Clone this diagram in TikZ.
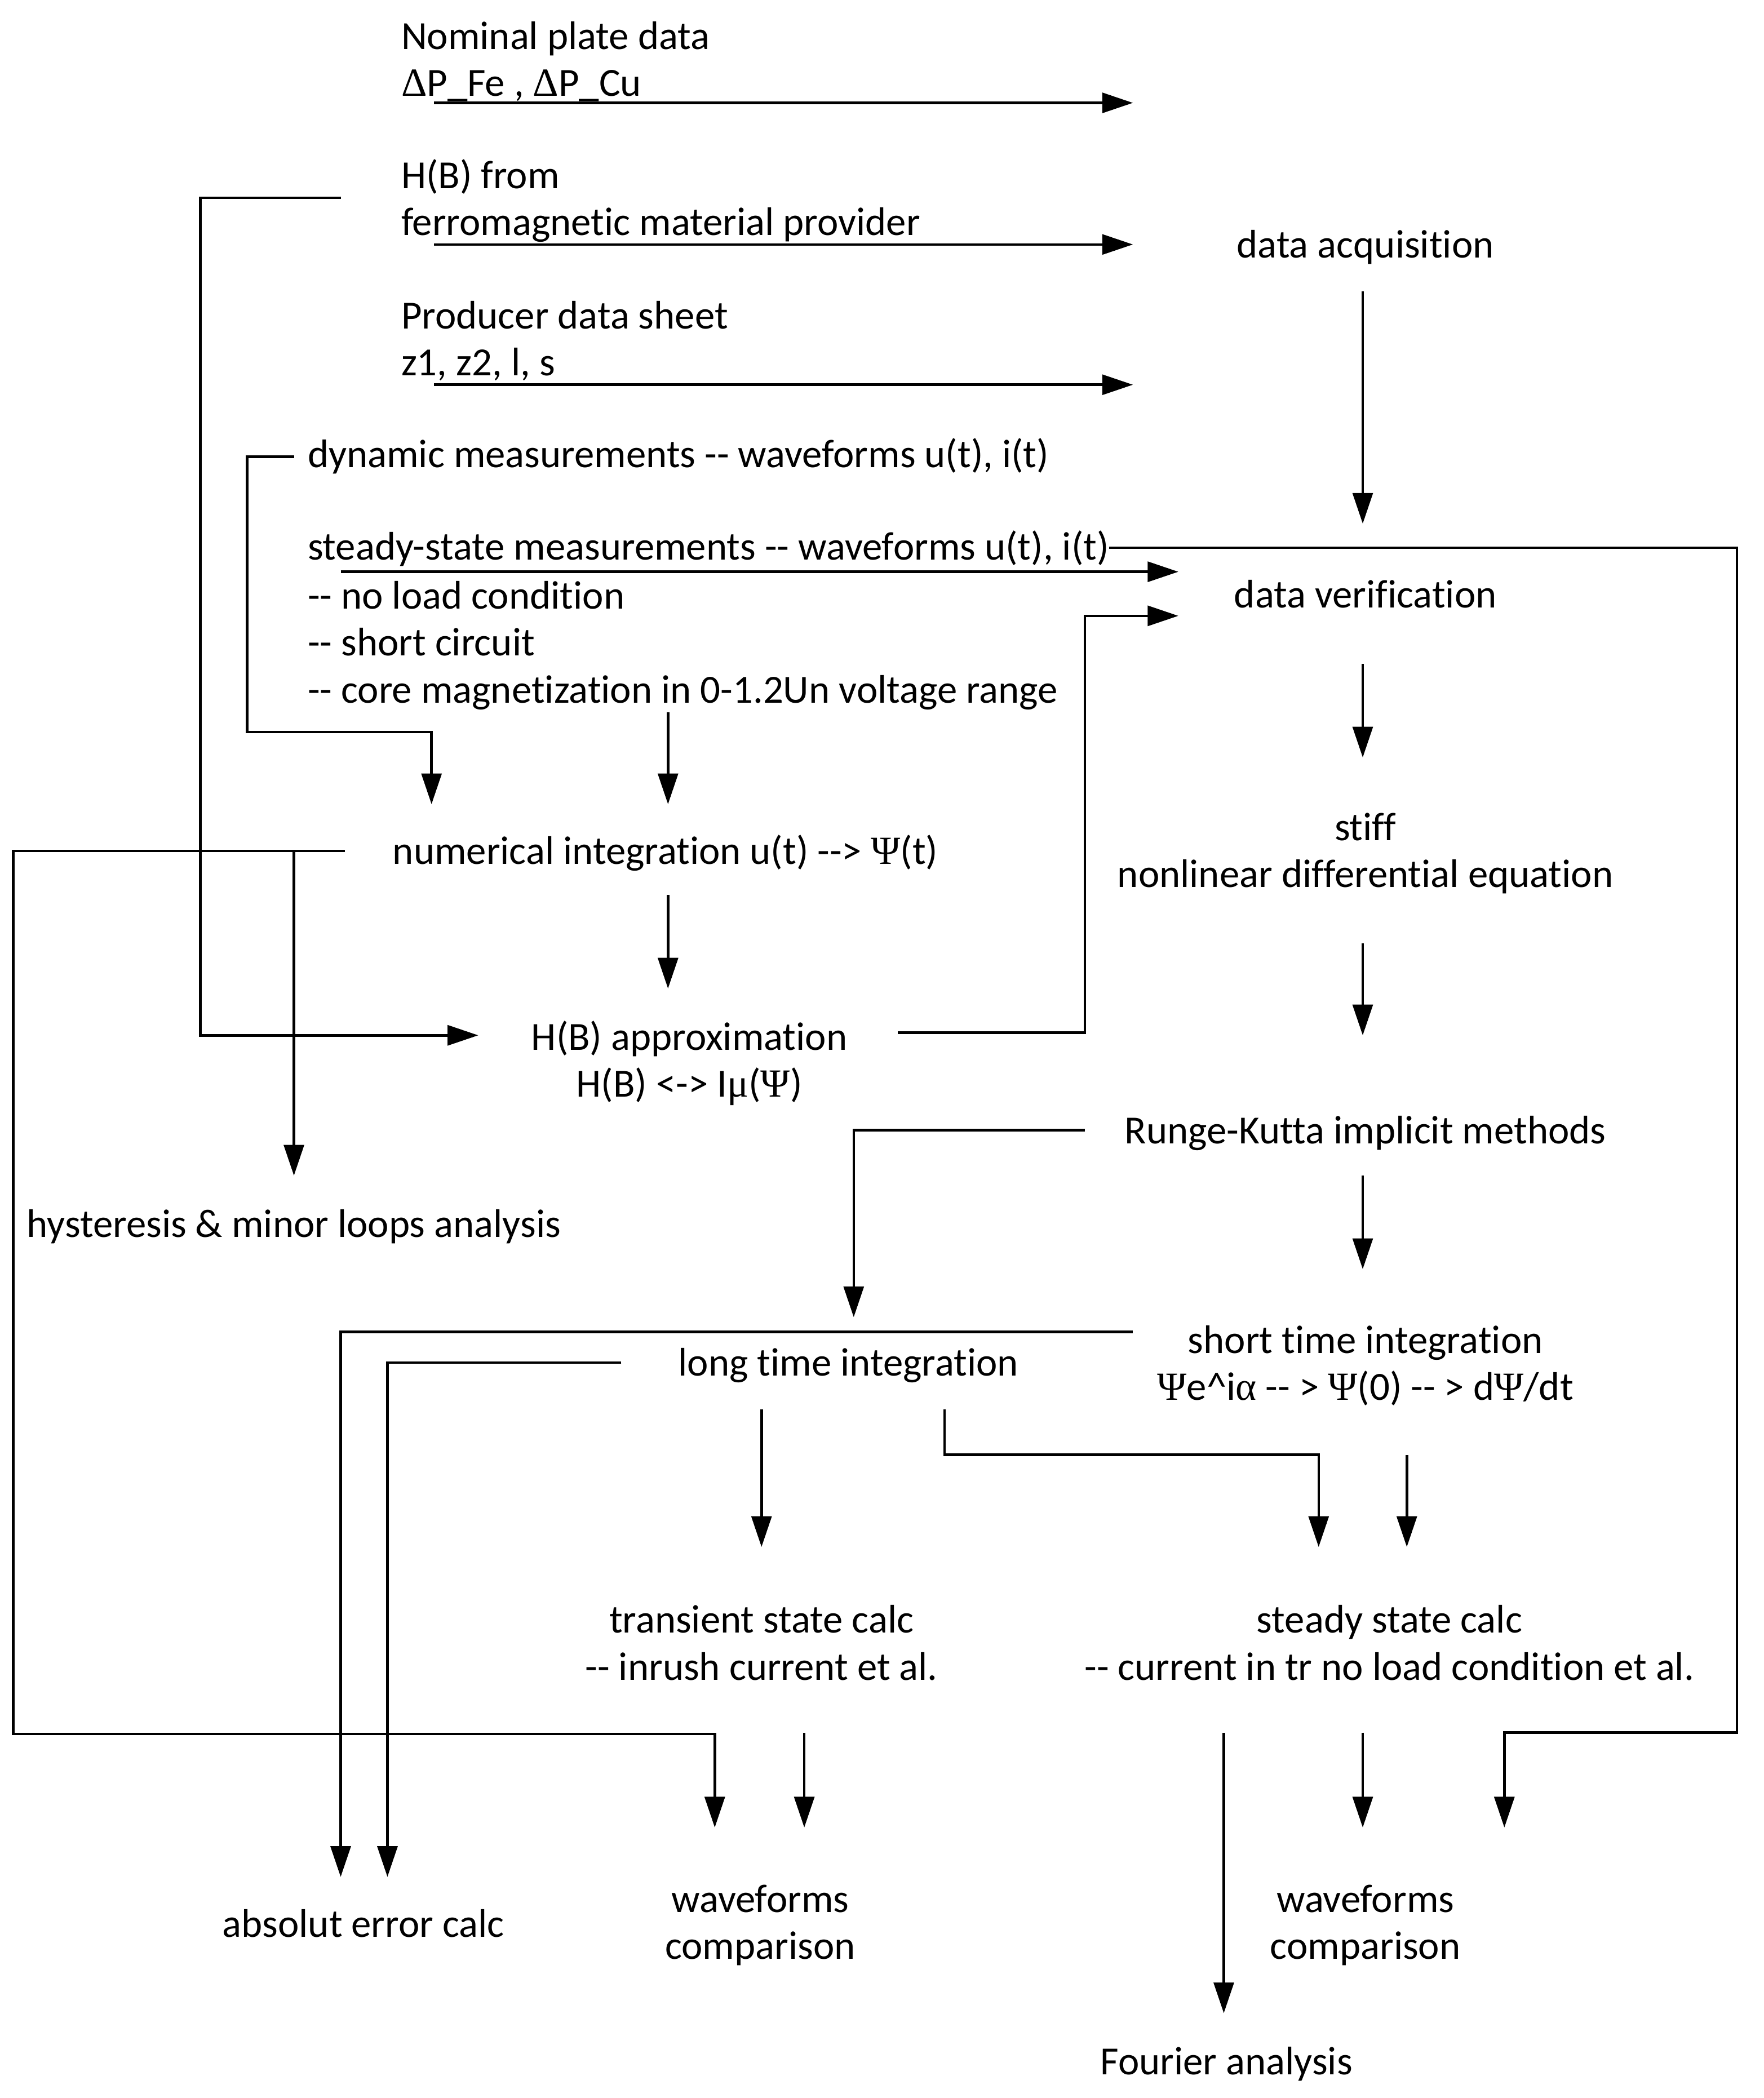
\documentclass[tikz,border=0pt]{standalone}
\usepackage{fontspec}
\setmainfont{Carlito}[Ligatures=NoCommon]
\newfontfamily\grk{Liberation Serif}
\usetikzlibrary{arrows.meta}
\begin{document}
\begin{tikzpicture}[x=0.02cm,y=-0.02cm,
  txt/.style={inner sep=0pt,font=\fontsize{17}{20}\selectfont,align=left},
  ctxt/.style={txt,align=center},
  ln/.style={line width=1.1pt},
  arr/.style={ln,-{Triangle[length=0.46cm,width=0.3cm]}}]
\useasboundingbox (0,0) rectangle (1320,1570.5);
% ---------------- text nodes ----------------
\node[txt,anchor=west] (nom) at (300,47.5) {\strut Nominal plate data\\\strut {\grk Δ}P\_Fe , {\grk Δ}P\_Cu};
\node[txt,anchor=west] (hbf) at (300,151.5) {\strut H(B) from\\\strut ferromagnetic material provider};
\node[txt,anchor=west] (prod) at (300,256.5) {\strut Producer data sheet\\\strut z1, z2, l, s};
\node[txt,anchor=west] (dyn) at (230,343) {\strut dynamic measurements -{}- waveforms u(t), i(t)};
\node[txt,anchor=west] (ss) at (230,412) {\strut steady-state measurements -{}- waveforms u(t), i(t)};
\node[txt,anchor=north west] (cond) at ([yshift=-0.02cm]ss.south west) {\strut -{}- no load condition\\\strut -{}- short circuit\\\strut -{}- core magnetization in 0-1.2Un voltage range};
\node[ctxt] (acq) at (1022,186) {\strut data acquisition};
\node[ctxt] (ver) at (1022,448) {\strut data verification};
\node[ctxt] (stiff) at (1022,639.5) {\strut stiff\\\strut nonlinear differential equation};
\node[ctxt] (rk) at (1022,849) {\strut Runge-Kutta implicit methods};
\node[ctxt] (sti) at (1022,1023.5) {\strut short time integration\\\strut {\grk Ψ}e\textasciicircum i{\grk α} -{}- > {\grk Ψ}(0) -{}- > d{\grk Ψ}/dt};
\node[ctxt] (num) at (498,640) {\strut numerical integration u(t) -{}-> {\grk Ψ}(t)};
\node[ctxt] (hba) at (516,796.5) {\strut H(B) approximation\\\strut H(B) <-> I{\grk μ}({\grk Ψ})};
\node[ctxt] (hyst) at (220,919) {\strut hysteresis \& minor loops analysis};
\node[ctxt] (lti) at (635,1023) {\strut long time integration};
\node[ctxt] (tsc) at (570,1233) {\strut transient state calc\\\strut -{}- inrush current et al.};
\node[ctxt] (ssc) at (1040,1233) {\strut steady state calc\\\strut -{}- current in tr no load condition et al.};
\node[ctxt] (abs) at (272,1443) {\strut absolut error calc};
\node[ctxt] (wf1) at (569,1442) {\strut waveforms\\\strut comparison};
\node[ctxt] (wf2) at (1022,1442) {\strut waveforms\\\strut comparison};
\node[ctxt] (four) at (918,1546) {\strut Fourier analysis};
% ---------------- coordinates ----------------
\coordinate (a1s) at (325,77);   \coordinate (a1e) at (848,77);
\coordinate (a2s) at (325,183);  \coordinate (a2e) at (848,183);
\coordinate (a3s) at (325,288);  \coordinate (a3e) at (848,288);
\coordinate (a4s) at (1020,218); \coordinate (a4e) at (1020,392);
\coordinate (d1) at (220,342); \coordinate (d2) at (185,342); \coordinate (d3) at (185,548); \coordinate (d4) at (323,548); \coordinate (d5) at (323,602);
\coordinate (s2) at (1300,410); \coordinate (s3) at (1300,1297); \coordinate (s4) at (1126,1297); \coordinate (s5) at (1126,1368);
\coordinate (a7s) at (255,428); \coordinate (a7e) at (882,428);
\coordinate (a8s) at (500,533); \coordinate (a8e) at (500,602);
\coordinate (a9s) at (1020,497); \coordinate (a9e) at (1020,567);
\coordinate (a10s) at (1020,706); \coordinate (a10e) at (1020,775);
\coordinate (n1) at (258,637); \coordinate (n2) at (10,637); \coordinate (n3) at (10,1298); \coordinate (n4) at (535,1298); \coordinate (n5) at (535,1368);
\coordinate (hy1) at (220,637); \coordinate (hy2) at (220,880);
\coordinate (a13s) at (500,670); \coordinate (a13e) at (500,740);
\coordinate (h1) at (255,148); \coordinate (h2) at (150,148); \coordinate (h3) at (150,775); \coordinate (h4) at (358,775);
\coordinate (p1) at (672,773); \coordinate (p2) at (812,773); \coordinate (p3) at (812,461); \coordinate (p4) at (882,461);
\coordinate (r1) at (812,846); \coordinate (r2) at (639,846); \coordinate (r3) at (639,986);
\coordinate (a17s) at (1020,880); \coordinate (a17e) at (1020,950);
\coordinate (t1) at (848,997); \coordinate (t2) at (255,997); \coordinate (t3) at (255,1405);
\coordinate (l1) at (465,1020); \coordinate (l2) at (290,1020); \coordinate (l3) at (290,1405);
\coordinate (a20s) at (570,1055); \coordinate (a20e) at (570,1158);
\coordinate (m1) at (707,1055); \coordinate (m2) at (707,1089); \coordinate (m3) at (987,1089); \coordinate (m4) at (987,1158);
\coordinate (a22s) at (1053,1089); \coordinate (a22e) at (1053,1158);
\coordinate (a23s) at (602,1297); \coordinate (a23e) at (602,1368);
\coordinate (a24s) at (916,1297); \coordinate (a24e) at (916,1507);
\coordinate (a25s) at (1020,1297); \coordinate (a25e) at (1020,1368);
% ---------------- connectors ----------------
\draw[arr] (a1s) -- (a1e);
\draw[arr] (a2s) -- (a2e);
\draw[arr] (a3s) -- (a3e);
\draw[arr] (a4s) -- (a4e);
\draw[arr] (d1) -- (d2) -- (d3) -- (d4) -- (d5);
\draw[arr] (ss.east |- s2) -- (s2) -- (s3) -- (s4) -- (s5);
\draw[arr] (a7s) -- (a7e);
\draw[arr] (a8s) -- (a8e);
\draw[arr] (a9s) -- (a9e);
\draw[arr] (a10s) -- (a10e);
\draw[arr] (n1) -- (n2) -- (n3) -- (n4) -- (n5);
\draw[arr] (hy1) -- (hy2);
\draw[arr] (a13s) -- (a13e);
\draw[arr] (h1) -- (h2) -- (h3) -- (h4);
\draw[arr] (p1) -- (p2) -- (p3) -- (p4);
\draw[arr] (r1) -- (r2) -- (r3);
\draw[arr] (a17s) -- (a17e);
\draw[arr] (t1) -- (t2) -- (t3);
\draw[arr] (l1) -- (l2) -- (l3);
\draw[arr] (a20s) -- (a20e);
\draw[arr] (m1) -- (m2) -- (m3) -- (m4);
\draw[arr] (a22s) -- (a22e);
\draw[arr] (a23s) -- (a23e);
\draw[arr] (a24s) -- (a24e);
\draw[arr] (a25s) -- (a25e);
\end{tikzpicture}
\end{document}
